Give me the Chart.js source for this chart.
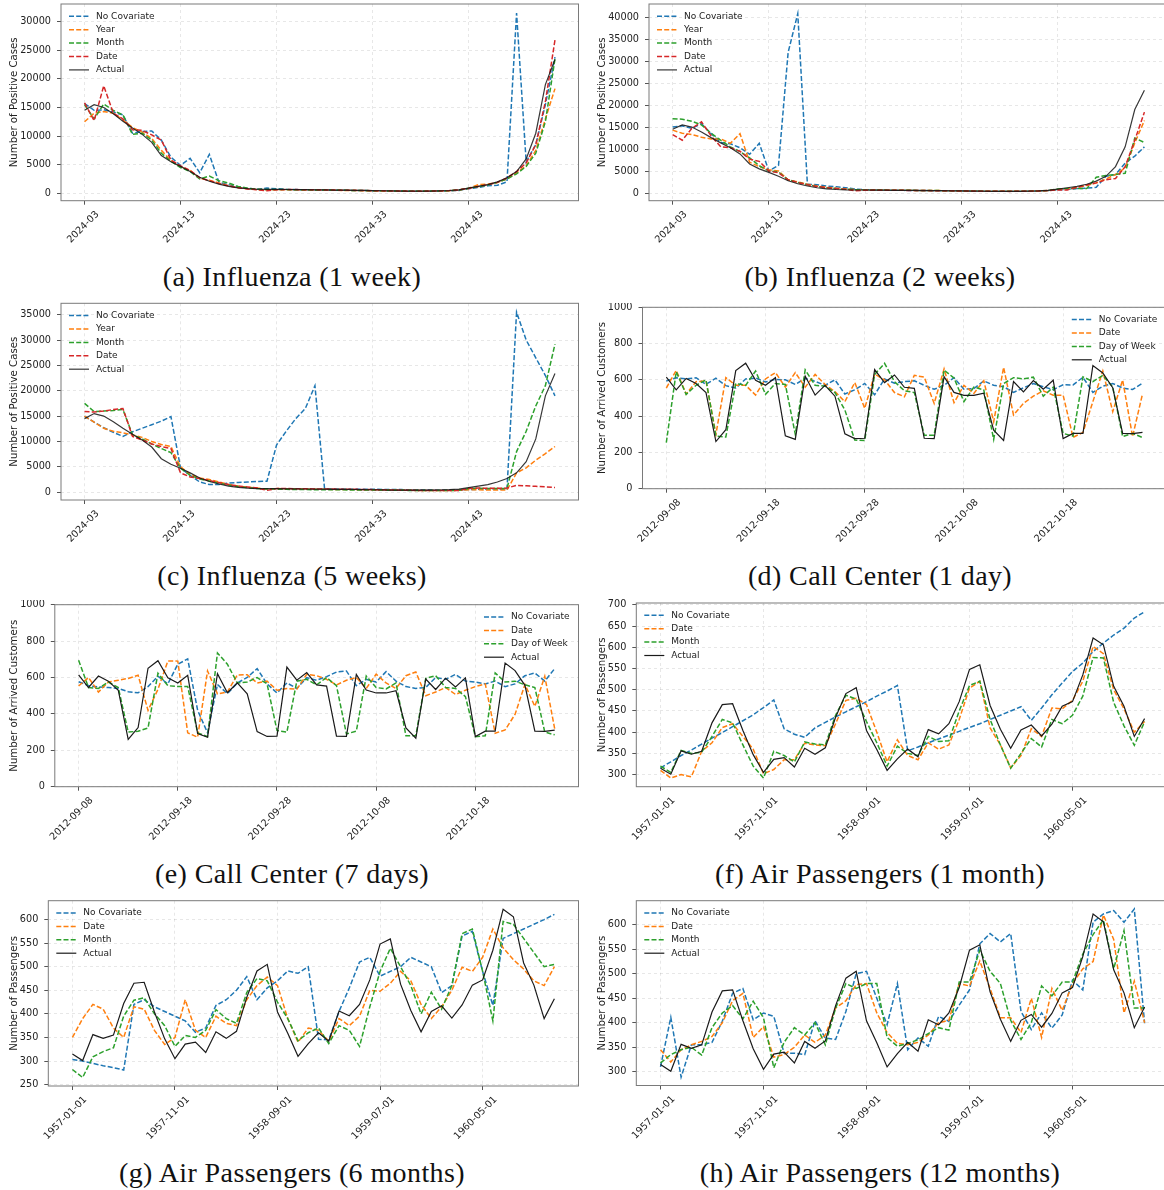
<!DOCTYPE html>
<html lang="en">
<head>
  <meta charset="UTF-8">
  <title>Forecast comparison with covariates</title>
  <script src="https://cdn.jsdelivr.net/npm/chart.js"></script>
  <style>
    html, body {
      margin: 0;
      padding: 0;
      background: #fff;
    }
    body {
      position: relative;
      width: 1164px;
      height: 1190px;
      overflow: hidden;
      font-family: "DejaVu Sans", sans-serif;
    }
    canvas {
      position: absolute;
    }
    .caption {
      position: absolute;
      width: 600px;
      text-align: center;
      font-family: "Liberation Serif", serif;
      font-size: 28px;
      letter-spacing: 0.4px;
      line-height: 32px;
      white-space: nowrap;
      color: #111;
    }
  </style>
</head>
<body>
  <script>
    // ---- categories and tick labels ----
    const fluWeeks = [];
    for (let w = 3; w <= 52; w++) fluWeeks.push('2024-' + String(w).padStart(2, '0'));
    const ccDays = [];
    for (let d = 0; d < 49; d++) ccDays.push(new Date(Date.UTC(2012, 8, 8 + d)).toISOString().slice(0, 10));
    const airMonths = [];
    for (let k = 0; k < 48; k++) airMonths.push(new Date(Date.UTC(1957, k, 1)).toISOString().slice(0, 10));

    const fluTickLabels = ['2024-03', '2024-13', '2024-23', '2024-33', '2024-43'];
    const ccTickLabels = ['2012-09-08', '2012-09-18', '2012-09-28', '2012-10-08', '2012-10-18'];
    const airTickLabels = ['1957-01-01', '1957-11-01', '1958-09-01', '1959-07-01', '1960-05-01'];

    const fluTicksA = [0, 5000, 10000, 15000, 20000, 25000, 30000];
    const fluTicksB = [0, 5000, 10000, 15000, 20000, 25000, 30000, 35000, 40000];
    const fluTicksC = [0, 5000, 10000, 15000, 20000, 25000, 30000, 35000];
    const ccTicks = [0, 200, 400, 600, 800, 1000];
    const airTicksF = [300, 350, 400, 450, 500, 550, 600, 650, 700];
    const airTicksG = [250, 300, 350, 400, 450, 500, 550, 600];
    const airTicksH = [300, 350, 400, 450, 500, 550, 600];

    // ---- influenza (weekly positive cases) ----
    const fluActual = [
      14500, 15500, 15000, 13900, 12600, 11400, 10300, 8900, 6600, 5500,
      4700, 3800, 2800, 2100, 1600, 1200, 950, 800, 700, 680,
      680, 660, 640, 620, 600, 580, 560, 540, 520, 500,
      470, 440, 410, 390, 380, 380, 390, 420, 480, 600,
      900, 1200, 1500, 2000, 2700, 3800, 6000, 10500, 19000, 23400];

    const flu1NoCov = [
      15700, 14500, 14600, 14200, 13700, 10500, 10800, 10900, 9300, 6300,
      4900, 6100, 3600, 6800, 1900, 1500, 1100, 850, 700, 900,
      800, 700, 650, 620, 600, 570, 550, 520, 500, 480,
      450, 420, 400, 380, 370, 360, 370, 380, 420, 500,
      800, 1000, 1300, 1400, 2000, 31500, 5500, 8500, 15500, 23800];
    const flu1Year = [
      12500, 14000, 14300, 14000, 12800, 11500, 10700, 9600, 7500, 5700,
      4600, 4000, 2600, 2300, 1800, 1300, 1000, 800, 650, 600,
      620, 600, 600, 580, 560, 550, 520, 500, 480, 460,
      430, 410, 390, 370, 360, 360, 370, 400, 450, 560,
      850, 1500, 1600, 1900, 2500, 3600, 4800, 7500, 13000, 18300];
    const flu1Month = [
      15500, 13000, 15600, 14500, 13700, 10300, 10500, 9300, 7000, 5600,
      4500, 3800, 2500, 3000, 2200, 1800, 1200, 900, 700, 650,
      660, 640, 620, 600, 580, 560, 540, 520, 500, 480,
      450, 420, 400, 380, 370, 370, 380, 410, 460, 580,
      880, 1150, 1450, 1900, 2500, 3400, 4700, 7000, 12500, 23500];
    const flu1Date = [
      15800, 12700, 18800, 14000, 13000, 11100, 11000, 10200, 9300, 5800,
      4800, 4000, 2700, 2200, 1700, 1300, 950, 750, 600, 450,
      600, 650, 640, 620, 600, 570, 550, 530, 510, 490,
      460, 430, 400, 380, 370, 370, 380, 410, 470, 600,
      850, 1200, 1500, 1900, 2700, 3800, 5300, 8500, 16000, 26800];

    const flu2NoCov = [
      15000, 15300, 14700, 15800, 13500, 11500, 11200, 10300, 8800, 11300,
      5000, 6300, 32000, 40800, 2000, 1900, 1600, 1400, 1200, 900,
      750, 700, 650, 620, 600, 580, 560, 540, 520, 500,
      480, 450, 420, 400, 390, 380, 390, 420, 470, 560,
      700, 850, 1000, 1100, 1300, 3800, 4200, 6800, 8400, 10500];
    const flu2Year = [
      14300, 13600, 13300, 12700, 12300, 12300, 11300, 13500, 7000, 6000,
      5300, 5000, 3000, 2500, 2000, 1600, 1300, 1100, 900, 750,
      700, 680, 660, 640, 620, 600, 580, 560, 540, 510,
      480, 450, 420, 400, 390, 380, 390, 420, 470, 560,
      800, 1000, 1300, 1700, 2300, 3200, 4200, 5700, 11400, 16500];
    const flu2Month = [
      16900, 16800, 16300, 15500, 13600, 12000, 10500, 9400, 8000, 6200,
      5000, 4800, 3000, 2400, 1900, 1500, 1200, 1000, 850, 750,
      700, 680, 660, 640, 620, 600, 580, 560, 540, 510,
      480, 450, 420, 400, 390, 380, 390, 420, 470, 560,
      900, 1000, 1000, 1000, 3600, 4000, 4200, 4500, 12500, 11500];
    const flu2Date = [
      13300, 12000, 14700, 16200, 13000, 10500, 10300, 9500, 7700, 7200,
      5000, 4600, 3000, 2400, 1900, 1500, 1200, 1000, 850, 500,
      650, 660, 640, 620, 600, 580, 560, 540, 520, 490,
      460, 430, 400, 390, 380, 370, 380, 410, 460, 550,
      700, 700, 1300, 1800, 2300, 3000, 3300, 6000, 12000, 18400];

    const flu5NoCov = [
      15000, 13800, 12700, 11800, 11000, 11900, 12600, 13300, 14000, 14900,
      4800, 3300, 2000, 1500, 1500, 1800, 1900, 2000, 2100, 2150,
      9300, 12000, 14500, 16500, 21000, 700, 650, 620, 600, 580,
      560, 540, 520, 500, 480, 460, 450, 440, 440, 450,
      500, 550, 600, 600, 550, 35500, 30000, 26500, 23000, 19000];
    const flu5Year = [
      15000, 13800, 12600, 12000, 11700, 11300, 10800, 10000, 9400, 9000,
      5000, 3500, 2800, 2500, 2000, 1500, 1200, 1000, 800, 600,
      700, 650, 620, 600, 580, 560, 540, 520, 500, 480,
      450, 420, 400, 380, 360, 340, 330, 330, 340, 360,
      450, 450, 420, 400, 400, 3800, 4800, 6300, 7600, 9000];
    const flu5Month = [
      17500, 15900, 16000, 16100, 16300, 11300, 10500, 9500, 8600, 7800,
      4700, 3300, 2600, 2200, 1800, 1400, 1100, 900, 700, 600,
      600, 550, 520, 500, 480, 470, 460, 450, 440, 430,
      420, 400, 380, 360, 340, 330, 320, 320, 330, 350,
      700, 750, 720, 700, 700, 8000, 12000, 17000, 21000, 29200];
    const flu5Date = [
      15900, 15800, 16000, 16300, 16500, 11000, 10300, 9500, 9000, 8600,
      3800, 3000, 2700, 2300, 1900, 1500, 1200, 1000, 800, 350,
      700, 700, 680, 660, 640, 620, 600, 580, 560, 540,
      500, 460, 420, 380, 350, 330, 320, 310, 300, 300,
      750, 800, 780, 760, 800, 1350, 1250, 1150, 1050, 900];

    // ---- call center (daily arrived customers) ----
    const ccActual = [
      615, 545, 608, 580, 530, 260, 325, 651, 692, 598,
      570, 612, 292, 272, 621, 516, 570, 510, 303, 276,
      278, 657, 585, 627, 559, 553, 278, 276, 617, 531,
      515, 515, 527, 323, 266, 591, 534, 596, 548, 598,
      276, 305, 305, 679, 638, 557, 305, 304, 311];

    const cc1NoCov = [
      594, 612, 605, 612, 575, 609, 568, 555, 605, 610,
      588, 603, 600, 575, 608, 592, 570, 600, 522, 545,
      580, 518, 605, 582, 590, 595, 570, 548, 570, 612,
      548, 552, 594, 570, 562, 531, 556, 580, 562, 546,
      573, 572, 614, 531, 565, 580, 555, 547, 581];
    const cc1Date = [
      555, 652, 522, 590, 595, 300, 612, 570, 570, 516,
      605, 640, 560, 640, 560, 630, 575, 535, 480, 585,
      443, 632, 600, 530, 507, 625, 615, 470, 660, 474,
      570, 525, 595, 369, 669, 406, 470, 510, 540, 515,
      516, 283, 310, 480, 649, 425, 599, 287, 522];
    const cc1Dow = [
      254, 645, 520, 570, 600, 290, 285, 580, 570, 649,
      520, 580, 575, 300, 655, 570, 565, 530, 434, 268,
      265, 630, 691, 590, 540, 530, 295, 295, 654, 610,
      480, 560, 545, 272, 580, 612, 605, 615, 510, 560,
      305, 290, 617, 590, 625, 560, 287, 305, 282];

    const cc7NoCov = [
      577, 555, 548, 545, 540, 522, 516, 550, 607, 565,
      673, 702, 420, 296, 562, 511, 570, 600, 649, 565,
      515, 570, 540, 599, 585, 605, 630, 636, 555, 590,
      575, 632, 580, 550, 540, 545, 600, 590, 617, 580,
      575, 565, 580, 550, 565, 610, 625, 580, 649];
    const cc7Date = [
      553, 600, 520, 575, 585, 595, 612, 419, 535, 691,
      690, 296, 272, 636, 510, 520, 614, 615, 570, 580,
      530, 540, 535, 618, 610, 590, 559, 585, 600, 540,
      618, 570, 540, 610, 630, 500, 520, 545, 507, 530,
      550, 565, 294, 312, 397, 562, 441, 607, 318];
    const cc7Dow = [
      695, 545, 540, 575, 545, 300, 305, 323, 623, 555,
      550, 550, 296, 275, 735, 673, 570, 575, 600, 565,
      309, 300, 580, 590, 560, 600, 555, 290, 305, 608,
      545, 537, 570, 280, 280, 595, 610, 545, 540, 495,
      275, 280, 625, 575, 580, 560, 545, 300, 285];

    // ---- air passengers (monthly) ----
    const airActual = [
      315, 301, 356, 348, 355, 422, 465, 467, 404, 347, 305, 336,
      340, 318, 362, 348, 363, 435, 491, 505, 404, 359, 310, 337,
      360, 342, 406, 396, 420, 472, 548, 559, 463, 407, 362, 405,
      417, 391, 419, 461, 472, 535, 622, 606, 508, 461, 390, 432];

    const air1NoCov = [
      316, 330, 345, 358, 372, 386, 399, 413, 427, 441, 458, 476,
      408, 395, 388, 410, 423, 436, 448, 460, 472, 485, 497, 510,
      356, 365, 375, 384, 393, 402, 411, 420, 430, 440, 450, 460,
      428, 457, 488, 516, 543, 563, 590, 610, 629, 645, 669, 684];
    const air1Date = [
      310, 292, 300, 295, 355, 375, 411, 420, 390, 360, 302, 312,
      335, 335, 374, 370, 368, 420, 475, 480, 465, 400, 330, 382,
      345, 335, 375, 360, 370, 430, 504, 520, 410, 370, 316, 345,
      408, 390, 457, 455, 475, 520, 602, 585, 500, 455, 400, 425];
    const air1Month = [
      320, 305, 357, 350, 353, 390, 430, 422, 370, 320, 292, 355,
      345, 330, 377, 372, 370, 440, 487, 478, 425, 375, 320, 367,
      350, 345, 390, 378, 380, 450, 510, 520, 430, 370, 315, 350,
      385, 365, 430, 420, 440, 485, 576, 575, 470, 415, 369, 425];

    const air6NoCov = [
      303, 300, 295, 290, 286, 281, 420, 430, 415, 405, 395, 385,
      361, 370, 418, 430, 450, 479, 430, 455, 470, 491, 486, 500,
      346, 345, 405, 455, 510, 520, 480, 490, 500, 520, 510, 500,
      445, 460, 565, 575, 490, 418, 560, 570, 580, 590, 600, 611];
    const air6Date = [
      350, 390, 420, 410, 370, 350, 415, 410, 365, 335, 350, 430,
      365, 350, 395, 380, 375, 430, 460, 478, 460, 390, 340, 370,
      365, 342, 390, 375, 395, 450, 448, 465, 490, 470, 420, 390,
      415, 450, 499, 490, 520, 580, 540, 515, 495, 470, 460, 500];
    const air6Month = [
      282, 265, 309, 320, 328, 395, 429, 434, 400, 375, 331, 354,
      350, 365, 409, 390, 380, 445, 475, 470, 425, 390, 343, 360,
      370, 337, 375, 365, 331, 415, 490, 539, 500, 460, 400, 446,
      410, 460, 570, 580, 490, 385, 596, 590, 560, 530, 500, 505];

    const air12NoCov = [
      310, 411, 289, 355, 355, 360, 403, 460, 470, 406, 420, 413,
      338, 338, 335, 404, 369, 366, 423, 500, 505, 450, 396, 480,
      345, 369, 352, 413, 403, 436, 467, 561, 582, 565, 582, 423,
      386, 420, 389, 416, 487, 467, 605, 622, 629, 605, 632, 399];
    const air12Date = [
      345, 320, 345, 355, 362, 372, 400, 445, 460, 370, 392, 330,
      335, 350, 375, 360, 375, 430, 445, 478, 480, 420, 380, 358,
      355, 360, 375, 400, 405, 480, 475, 526, 470, 410, 410, 380,
      450, 370, 470, 425, 480, 510, 525, 620, 570, 420, 485, 400];
    const air12Month = [
      318, 335, 345, 350, 334, 390, 420, 435, 408, 444, 410, 308,
      360, 390, 375, 400, 355, 430, 480, 470, 480, 480, 370, 352,
      358, 365, 378, 390, 385, 483, 483, 548, 505, 480, 405, 366,
      400, 475, 455, 483, 483, 540, 580, 610, 510, 588, 430, 430];

    // ---- styling helpers ----
    const BLUE = '#1f77b4', ORANGE = '#ff7f0e', GREEN = '#2ca02c', RED = '#d62728';
    const FONT = '"DejaVu Sans", sans-serif';

    function pred(label, values, color) {
      return { label, data: values.map((v, i) => ({ x: i, y: v })), borderColor: color,
        borderWidth: 1.5, borderDash: [5, 2.2], pointRadius: 0, tension: 0, fill: false };
    }
    function actual(values, color) {
      return { label: 'Actual', data: values.map((v, i) => ({ x: i, y: v })), borderColor: color,
        borderWidth: 1.2, borderDash: [], pointRadius: 0, tension: 0, fill: false };
    }

    const framePlugin = {
      id: 'frame',
      afterDraw(chart) {
        const { ctx, chartArea: a } = chart;
        ctx.save();
        ctx.strokeStyle = '#7a7a7a';
        ctx.lineWidth = 1;
        ctx.strokeRect(a.left, a.top, a.right - a.left, a.bottom - a.top);
        ctx.restore();
      }
    };

    const innerLegend = {
      id: 'innerLegend',
      afterDraw(chart, args, opts) {
        const { ctx, chartArea: a } = chart;
        const items = chart.data.datasets;
        ctx.save();
        ctx.font = '9px ' + FONT;
        ctx.textBaseline = 'middle';
        const maxW = Math.max(...items.map(d => ctx.measureText(d.label).width));
        const textX = opts.side === 'right' ? a.right - 9 - maxW : a.left + 35;
        items.forEach((d, k) => {
          const y = a.top + 12.3 + k * 13.4;
          ctx.strokeStyle = d.borderColor;
          ctx.lineWidth = d.borderWidth;
          ctx.setLineDash(d.borderDash);
          ctx.beginPath();
          ctx.moveTo(textX - 27, y);
          ctx.lineTo(textX - 7, y);
          ctx.stroke();
          ctx.setLineDash([]);
          ctx.fillStyle = '#222';
          ctx.fillText(d.label, textX, y);
        });
        ctx.restore();
      }
    };

    const FLU_ACT = 'rgba(20,20,20,0.85)', ACT = '#1a1a1a';

    const panels = [
      { colX: 0, f: { l: 61, r: 578.5, t: 4, b: 200.7 }, cats: fluWeeks, xTicks: fluTickLabels,
        yMin: -1300, yMax: 33100, yTicks: fluTicksA, yTitle: 'Number of Positive Cases', side: 'left',
        caption: '(a) Influenza (1 week)', capY: 277,
        series: [pred('No Covariate', flu1NoCov, BLUE), pred('Year', flu1Year, ORANGE),
                 pred('Month', flu1Month, GREEN), pred('Date', flu1Date, RED), actual(fluActual, FLU_ACT)] },
      { colX: 588, f: { l: 649, r: 1168, t: 4, b: 200.7 }, cats: fluWeeks, xTicks: fluTickLabels,
        yMin: -1750, yMax: 43000, yTicks: fluTicksB, yTitle: 'Number of Positive Cases', side: 'left',
        caption: '(b) Influenza (2 weeks)', capY: 277,
        series: [pred('No Covariate', flu2NoCov, BLUE), pred('Year', flu2Year, ORANGE),
                 pred('Month', flu2Month, GREEN), pred('Date', flu2Date, RED), actual(fluActual, FLU_ACT)] },
      { colX: 0, f: { l: 61, r: 578.5, t: 303.3, b: 500 }, cats: fluWeeks, xTicks: fluTickLabels,
        yMin: -1550, yMax: 37250, yTicks: fluTicksC, yTitle: 'Number of Positive Cases', side: 'left',
        caption: '(c) Influenza (5 weeks)', capY: 576,
        series: [pred('No Covariate', flu5NoCov, BLUE), pred('Year', flu5Year, ORANGE),
                 pred('Month', flu5Month, GREEN), pred('Date', flu5Date, RED), actual(fluActual, FLU_ACT)] },
      { colX: 588, f: { l: 642.5, r: 1166.3, t: 307.3, b: 488.7 }, cats: ccDays, xTicks: ccTickLabels,
        yMin: 0, yMax: 1000, yTicks: ccTicks, yTitle: 'Number of Arrived Customers', side: 'right',
        caption: '(d) Call Center (1 day)', capY: 576,
        series: [pred('No Covariate', cc1NoCov, BLUE), pred('Date', cc1Date, ORANGE),
                 pred('Day of Week', cc1Dow, GREEN), actual(ccActual, ACT)] },
      { colX: 0, f: { l: 54.8, r: 578.5, t: 604.7, b: 786.7 }, cats: ccDays, xTicks: ccTickLabels,
        yMin: 0, yMax: 1000, yTicks: ccTicks, yTitle: 'Number of Arrived Customers', side: 'right',
        caption: '(e) Call Center (7 days)', capY: 874,
        series: [pred('No Covariate', cc7NoCov, BLUE), pred('Date', cc7Date, ORANGE),
                 pred('Day of Week', cc7Dow, GREEN), actual(ccActual, ACT)] },
      { colX: 588, f: { l: 636.3, r: 1168.8, t: 603, b: 786.7 }, cats: airMonths, xTicks: airTickLabels,
        yMin: 271.5, yMax: 704.5, yTicks: airTicksF, yTitle: 'Number of Passengers', side: 'left',
        caption: '(f) Air Passengers (1 month)', capY: 874,
        series: [pred('No Covariate', air1NoCov, BLUE), pred('Date', air1Date, ORANGE),
                 pred('Month', air1Month, GREEN), actual(airActual, ACT)] },
      { colX: 0, f: { l: 48.3, r: 578.5, t: 900.7, b: 1086 }, cats: airMonths, xTicks: airTickLabels,
        yMin: 247, yMax: 640, yTicks: airTicksG, yTitle: 'Number of Passengers', side: 'left',
        caption: '(g) Air Passengers (6 months)', capY: 1173,
        series: [pred('No Covariate', air6NoCov, BLUE), pred('Date', air6Date, ORANGE),
                 pred('Month', air6Month, GREEN), actual(airActual, ACT)] },
      { colX: 588, f: { l: 636.3, r: 1168.8, t: 900.7, b: 1085.5 }, cats: airMonths, xTicks: airTickLabels,
        yMin: 272, yMax: 649, yTicks: airTicksH, yTitle: 'Number of Passengers', side: 'left',
        caption: '(h) Air Passengers (12 months)', capY: 1173,
        series: [pred('No Covariate', air12NoCov, BLUE), pred('Date', air12Date, ORANGE),
                 pred('Month', air12Month, GREEN), actual(airActual, ACT)] }
    ];

    function buildPanel(p) {
      const top = Math.floor(p.f.t) - 4;
      const w = Math.ceil(p.f.r - p.colX) + 2;
      const h = Math.ceil(p.f.b - top) + 58;
      const canvas = document.createElement('canvas');
      canvas.width = w;
      canvas.height = h;
      canvas.style.left = p.colX + 'px';
      canvas.style.top = top + 'px';
      canvas.style.width = w + 'px';
      canvas.style.height = h + 'px';
      document.body.appendChild(canvas);

      const padTop = p.f.t - top;
      const padRight = w - (p.f.r - p.colX);
      const yW = p.f.l - p.colX;
      const xH = h - (p.f.b - top);
      const n = p.cats.length;
      const m = 0.05 * (n - 1);

      const grid = { color: 'rgba(0,0,0,0.12)', lineWidth: 0.8, tickColor: '#555', tickLength: 4,
        tickWidth: 1, tickBorderDash: [] };
      const border = { display: false, dash: [3, 3] };
      const tickFont = { family: FONT, size: 9.7 };

      p.series.forEach((d, k) => { d.order = -k; });

      new Chart(canvas.getContext('2d'), {
        type: 'line',
        data: { datasets: p.series },
        options: {
          responsive: false,
          animation: false,
          events: [],
          layout: { padding: { top: padTop, right: padRight, left: 0, bottom: 0 } },
          plugins: { legend: { display: false }, tooltip: { enabled: false }, innerLegend: { side: p.side } },
          scales: {
            x: {
              type: 'linear', min: -m, max: n - 1 + m,
              afterBuildTicks: s => { s.ticks = p.xTicks.map(t => ({ value: p.cats.indexOf(t) })); },
              afterFit: s => { s.height = xH; s.paddingLeft = 0; s.paddingRight = 0; },
              ticks: { font: tickFont, color: '#222', maxRotation: 45, minRotation: 45, autoSkip: false,
                padding: 4, labelOffset: 13, callback: v => p.cats[v] },
              grid, border
            },
            y: {
              type: 'linear', min: p.yMin, max: p.yMax,
              afterBuildTicks: s => { s.ticks = p.yTicks.map(v => ({ value: v })); },
              afterFit: s => { s.width = yW; s.paddingTop = 0; s.paddingBottom = 0; },
              ticks: { font: tickFont, color: '#222', padding: 6, callback: v => String(v) },
              grid, border,
              title: { display: true, text: p.yTitle, color: '#222', font: { family: FONT, size: 10.2 },
                padding: { top: 8.5, bottom: 0 } }
            }
          }
        },
        plugins: [framePlugin, innerLegend]
      });

      const cap = document.createElement('div');
      cap.className = 'caption';
      cap.textContent = p.caption;
      cap.style.left = (p.colX === 0 ? 292 : 880) - 300 + 'px';
      cap.style.top = (p.capY - 16) + 'px';
      document.body.appendChild(cap);
    }

    panels.forEach(buildPanel);
  </script>
</body>
</html>
